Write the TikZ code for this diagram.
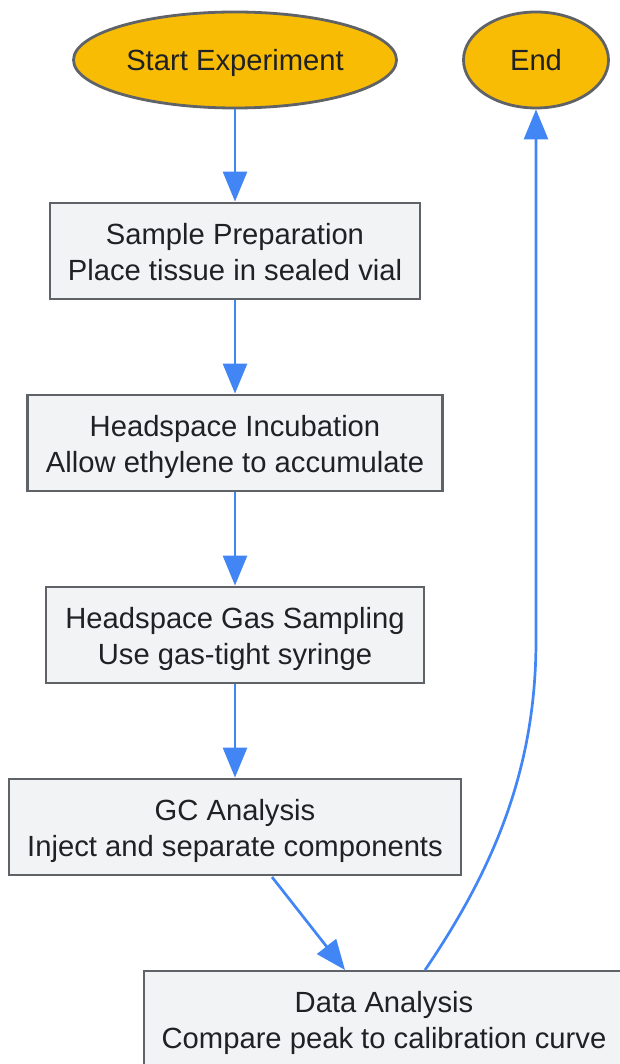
\documentclass[tikz,border=0pt]{standalone}
\usepackage{fontspec}
\setmainfont{Liberation Sans}
\usetikzlibrary{shapes.geometric,arrows.meta}
\definecolor{term}{HTML}{F9BC05}
\definecolor{boxfill}{HTML}{F1F3F4}
\definecolor{edge}{HTML}{5F6368}
\definecolor{arrow}{HTML}{4285F4}
\definecolor{txt}{HTML}{202124}
\newcommand\lowered[2][4pt]{\raisebox{-#1}[\height][\depth]{#2}}
\newcommand\twoline[2]{\lowered{\begin{tabular}{@{}c@{}}#1\\#2\end{tabular}}}
\tikzset{
  base/.style={draw=edge, line width=2.8pt, text=txt, inner sep=0pt, align=center,
    font=\fontsize{29.2}{36}\selectfont},
  terminal/.style={base, ellipse, fill=term},
  stepbox/.style={base, rectangle, fill=boxfill, minimum height=96pt},
  flow/.style={draw=arrow, line width=2.7pt, -{Triangle[length=30pt,width=24pt]}}
}
\begin{document}
\begin{tikzpicture}[x=1pt,y=-1pt]
\useasboundingbox (0,0) rectangle (620,1064);
\node[terminal, minimum width=323pt, minimum height=96pt] (s) at (235,60) {\lowered[3pt]{Start Experiment}};
\node[terminal, minimum width=145pt, minimum height=96pt] (e) at (536,60) {End};
\node[stepbox, minimum width=370pt] (p) at (235,251) {\twoline{Sample Preparation}{Place tissue in sealed vial}};
\node[stepbox, minimum width=415pt] (i) at (235,443) {\twoline{Headspace Incubation}{Allow ethylene to accumulate}};
\node[stepbox, minimum width=378pt] (g) at (235,635) {\twoline{Headspace Gas Sampling}{Use gas-tight syringe}};
\node[stepbox, minimum width=452pt] (c) at (235,827) {\twoline{GC Analysis}{Inject and separate components}};
\node[stepbox, minimum width=480pt] (d) at (384,1019) {\twoline{Data Analysis}{Compare peak to calibration curve}};
\coordinate (cout) at (272,877);
\coordinate (din) at (345,970);
\coordinate (dout) at (425,970);
\draw[flow] (s) -- (p);
\draw[flow] (p) -- (i);
\draw[flow] (i) -- (g);
\draw[flow] (g) -- (c);
\draw[flow] (cout) -- (din);
\draw[flow] (dout) .. controls (500,860) and (536,760) .. (536,640) -- (e.south);
\end{tikzpicture}
\end{document}
